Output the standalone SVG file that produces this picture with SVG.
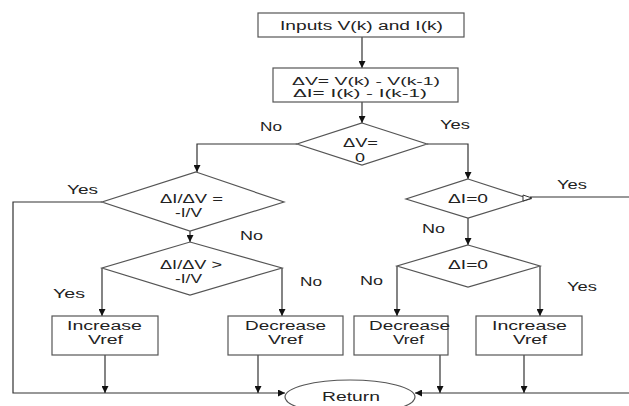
<svg xmlns="http://www.w3.org/2000/svg" width="629" height="406" viewBox="0 0 629 406">
<style>
.box{fill:#fff;stroke:#555;stroke-width:1.2}
.ln{fill:none;stroke:#333;stroke-width:1.2}
.t{font-family:"Liberation Sans",Arial,sans-serif;font-size:12.5px;fill:#222}
.s{font-size:10.5px}
</style>
<defs>
<marker id="ar" viewBox="0 0 10 10" refX="10" refY="5" markerWidth="7" markerHeight="7" markerUnits="userSpaceOnUse" orient="auto">
<path d="M0,0 L10,5 L0,10 z" fill="#111"/>
</marker>
</defs>
<rect width="629" height="406" fill="#fff"/>
<g id="connectors">
<path class="ln" d="M362,37 V68" marker-end="url(#ar)"/>
<path class="ln" d="M362,102 V123" marker-end="url(#ar)"/>
<path class="ln" d="M297,144 H197 V172" marker-end="url(#ar)"/>
<path class="ln" d="M427,144 H468 V179" marker-end="url(#ar)"/>
<path class="ln" d="M190,231 V242" marker-end="url(#ar)"/>
<path class="ln" d="M102,202 H13 V393 H285" marker-end="url(#ar)"/>
<path class="ln" d="M102,268 V316" marker-end="url(#ar)"/>
<path class="ln" d="M282,268 V316" marker-end="url(#ar)"/>
<path class="ln" d="M468,218 V245" marker-end="url(#ar)"/>
<path class="ln" d="M530,197 H629"/>
<path class="ln" d="M397,266 V316" marker-end="url(#ar)"/>
<path class="ln" d="M540,266 V316" marker-end="url(#ar)"/>
<path class="ln" d="M105,355 V393" marker-end="url(#ar)"/>
<path class="ln" d="M258,355 V393" marker-end="url(#ar)"/>
<path class="ln" d="M440,355 V393" marker-end="url(#ar)"/>
<path class="ln" d="M524,355 V393" marker-end="url(#ar)"/>
<path class="ln" d="M629,393 H415" marker-end="url(#ar)"/>
</g>
<g id="labels">
<text class="t" x="260" y="131" textLength="22" lengthAdjust="spacingAndGlyphs">No</text>
<text class="t" x="440" y="129" textLength="30" lengthAdjust="spacingAndGlyphs">Yes</text>
<text class="t" x="67" y="194" textLength="31" lengthAdjust="spacingAndGlyphs">Yes</text>
<text class="t" x="240" y="240" textLength="23" lengthAdjust="spacingAndGlyphs">No</text>
<text class="t" x="53" y="298" textLength="32" lengthAdjust="spacingAndGlyphs">Yes</text>
<text class="t" x="300" y="286" textLength="22" lengthAdjust="spacingAndGlyphs">No</text>
<text class="t" x="557" y="189" textLength="30" lengthAdjust="spacingAndGlyphs">Yes</text>
<text class="t" x="422" y="233" textLength="23" lengthAdjust="spacingAndGlyphs">No</text>
<text class="t" x="360" y="285" textLength="23" lengthAdjust="spacingAndGlyphs">No</text>
<text class="t" x="567" y="291" textLength="30" lengthAdjust="spacingAndGlyphs">Yes</text>
</g>
<g id="inputs">
<rect class="box" x="258" y="13" width="206" height="24"/>
<text class="t" x="280" y="29.5" textLength="163" lengthAdjust="spacingAndGlyphs">Inputs V(k) and I(k)</text>
</g>
<g id="delta">
<rect class="box" x="273" y="68" width="185" height="34"/>
<text class="t s" x="292" y="84.5" textLength="148" lengthAdjust="spacingAndGlyphs">ΔV= V(k) - V(k-1)</text>
<text class="t s" x="293" y="97" textLength="134" lengthAdjust="spacingAndGlyphs">ΔI= I(k) - I(k-1)</text>
</g>
<g id="dv0">
<polygon class="box" points="362,123 427,144 362,165 297,144"/>
<text class="t" x="343" y="147" textLength="35" lengthAdjust="spacingAndGlyphs">ΔV=</text>
<text class="t" x="355" y="162" textLength="10" lengthAdjust="spacingAndGlyphs">0</text>
</g>
<g id="eq">
<polygon class="box" points="196,172 284,202 190,231 102,202"/>
<text class="t" x="160" y="203" textLength="63" lengthAdjust="spacingAndGlyphs">ΔI/ΔV =</text>
<text class="t" x="175" y="217" textLength="27" lengthAdjust="spacingAndGlyphs">-I/V</text>
</g>
<g id="gt">
<polygon class="box" points="190,242 282,268 190,295 102,268"/>
<text class="t" x="160" y="269" textLength="62" lengthAdjust="spacingAndGlyphs">ΔI/ΔV &gt;</text>
<text class="t" x="175" y="283" textLength="27" lengthAdjust="spacingAndGlyphs">-I/V</text>
</g>
<g id="di0a">
<polygon class="box" points="468,179 530,199 468,218 406,199"/>
<polygon points="523,195 532,198 523,201" fill="#fff" stroke="#333" stroke-width="1"/>
<text class="t" x="448" y="203" textLength="40" lengthAdjust="spacingAndGlyphs">ΔI=0</text>
</g>
<g id="di0b">
<polygon class="box" points="468,245 540,266 468,287 397,266"/>
<text class="t" x="448" y="269" textLength="40" lengthAdjust="spacingAndGlyphs">ΔI=0</text>
</g>
<g id="inc1">
<rect class="box" x="52" y="316" width="106" height="39"/>
<text class="t" x="67" y="330" textLength="75" lengthAdjust="spacingAndGlyphs">Increase</text>
<text class="t" x="88" y="344" textLength="35" lengthAdjust="spacingAndGlyphs">Vref</text>
</g>
<g id="dec1">
<rect class="box" x="228" y="316" width="115" height="39"/>
<text class="t" x="245" y="330" textLength="81" lengthAdjust="spacingAndGlyphs">Decrease</text>
<text class="t" x="268" y="344" textLength="35" lengthAdjust="spacingAndGlyphs">Vref</text>
</g>
<g id="dec2">
<rect class="box" x="354" y="316" width="94" height="39"/>
<text class="t" x="369" y="330" textLength="81" lengthAdjust="spacingAndGlyphs">Decrease</text>
<text class="t" x="393" y="344" textLength="31" lengthAdjust="spacingAndGlyphs">Vref</text>
</g>
<g id="inc2">
<rect class="box" x="476" y="316" width="106" height="39"/>
<text class="t" x="492" y="330" textLength="75" lengthAdjust="spacingAndGlyphs">Increase</text>
<text class="t" x="513" y="344" textLength="34" lengthAdjust="spacingAndGlyphs">Vref</text>
</g>
<g id="return">
<ellipse class="box" cx="350" cy="397" rx="65" ry="17"/>
<text class="t" x="322" y="401" textLength="58" lengthAdjust="spacingAndGlyphs">Return</text>
</g>
</svg>
